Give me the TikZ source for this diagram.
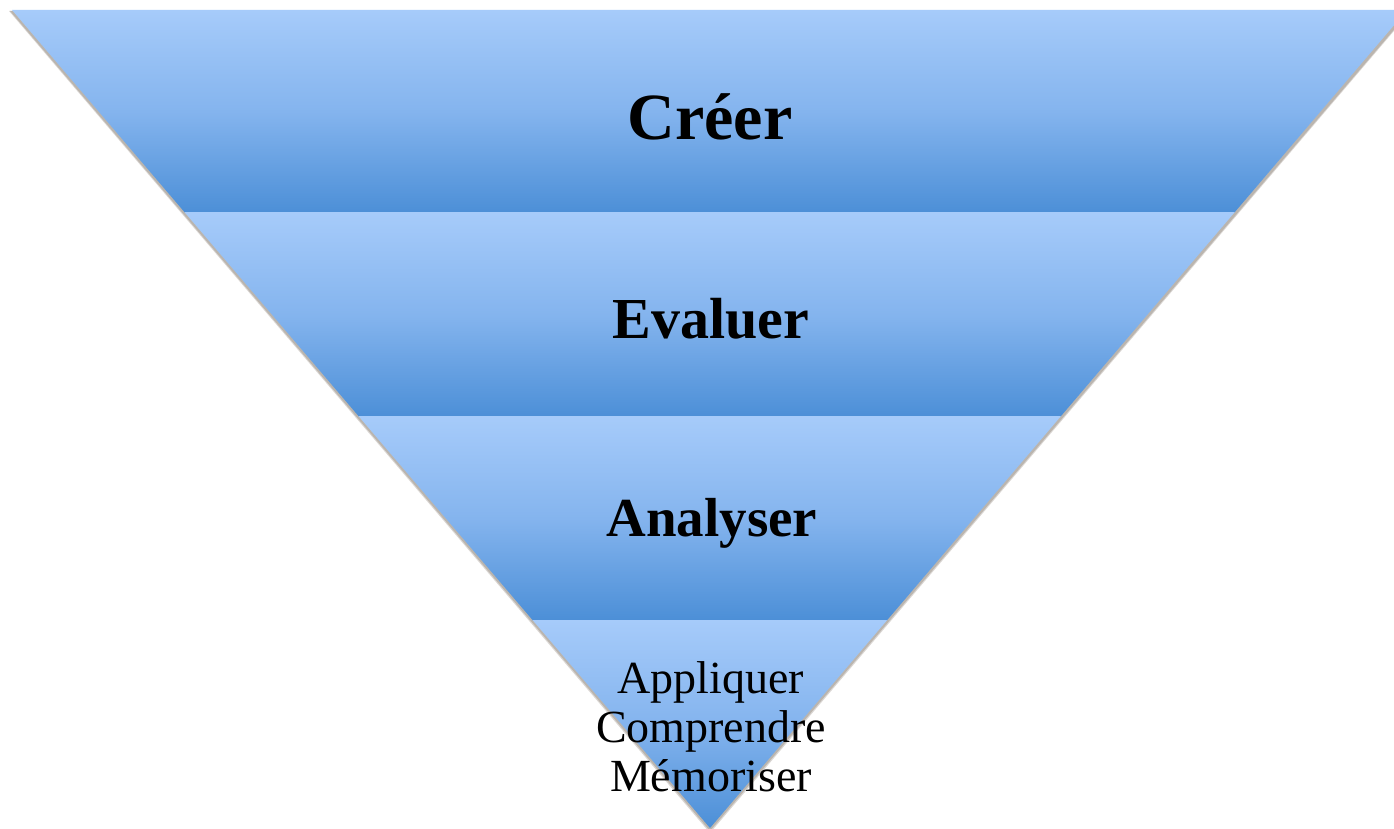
\documentclass[tikz,border=0pt]{standalone}
\usepackage{fontspec}
\setmainfont{Liberation Serif}
\definecolor{bandtop}{RGB}{166,203,250}
\definecolor{bandmid}{RGB}{132,180,238}
\definecolor{bandbot}{RGB}{76,143,215}
\definecolor{edgeshadow}{RGB}{150,140,130}
\begin{document}
\begin{tikzpicture}[x=1pt,y=1pt,
  lvl/.style={font=\bfseries\fontsize{#1}{#1}\selectfont, text=black, inner sep=0pt, anchor=center},
  small/.style={font=\fontsize{46}{49}\selectfont, text=black, inner sep=0pt, align=center},
  band/.style={top color=bandtop, bottom color=bandbot, middle color=bandmid}]
\useasboundingbox (0,0) rectangle (1394,828);
\fill[white] (0,0) rectangle (1394,828);
% soft edge shadow
\fill[edgeshadow, opacity=0.45] (10,817) -- (1410,817) -- (710,-3) -- cycle;
\fill[edgeshadow, opacity=0.35] (9,817) -- (1411,817) -- (710,-5) -- cycle;
\begin{scope}
  \clip (12,818) -- (1407,818) -- (710,0) -- cycle;
  \shade[band] (0,615) rectangle (1420,818);
  \shade[band] (0,411) rectangle (1420,615);
  \shade[band] (0,208) rectangle (1420,411);
  \shade[band] (0,0) rectangle (1420,208);
\end{scope}
\node[lvl=66] (creer) at (710,711) {Créer};
\node[lvl=58] (evaluer) at (711,509) {Evaluer};
\node[lvl=55] (analyser) at (712,305) {Analyser};
\node[small] (bas) at (711,101) {Appliquer\\Comprendre\\Mémoriser};
\end{tikzpicture}
\end{document}
